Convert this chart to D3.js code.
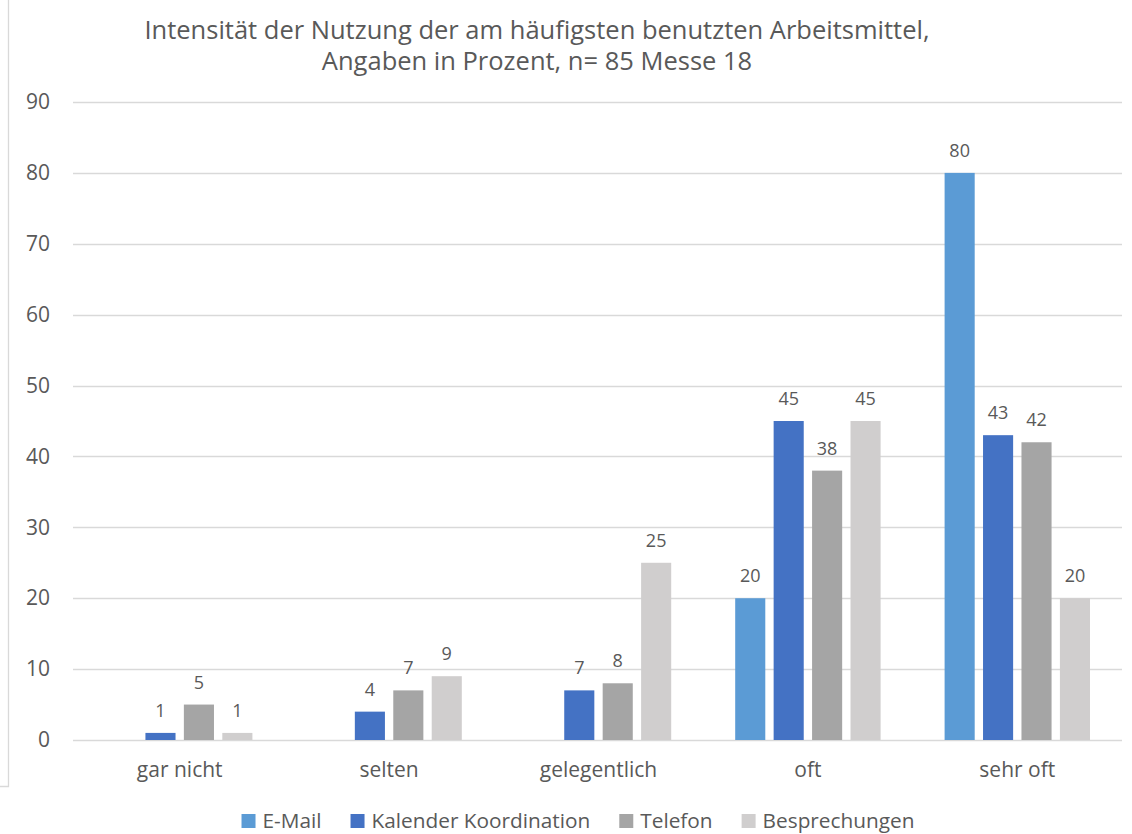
<!DOCTYPE html>
<html>
<head>
<meta charset="utf-8">
<title>Intensität der Nutzung</title>
<script src="https://cdnjs.cloudflare.com/ajax/libs/d3/7.8.5/d3.min.js"></script>
<style>
	body { margin: 0; background: #fff; }
	svg text { font-family: "Open Sans", sans-serif; fill: #595959; }
	.grid line { stroke: #d9d9d9; stroke-width: 1.3px; }
</style>
</head>
<body>
<script>
var categories = ["gar nicht", "selten", "gelegentlich", "oft", "sehr oft"];
var seriesNames = ["E-Mail", "Kalender Koordination", "Telefon", "Besprechungen"];
var emailValues = [null, null, null, 20, 80];
var kalenderValues = [1, 4, 7, 45, 43];
var telefonValues = [5, 7, 8, 38, 42];
var besprechungValues = [1, 9, 25, 45, 20];
var yTicks = [0, 10, 20, 30, 40, 50, 60, 70, 80, 90];
var titleLines = ["Intensität der Nutzung der am häufigsten benutzten Arbeitsmittel,",
	"Angaben in Prozent, n= 85 Messe 18"];
var colors = ["#5b9bd5", "#4472c4", "#a5a5a5", "#d0cece"];

var allValues = [emailValues, kalenderValues, telefonValues, besprechungValues];

var W = 1132, H = 834;
var plotLeft = 75, plotRight = 1122, plotTop = 102, plotBottom = 740;

var svg = d3.select("body").append("svg")
	.attr("width", W)
	.attr("height", H);

// frame line on the left
svg.append("path")
	.attr("d", "M8.5,0 V786.5 H0")
	.attr("fill", "none")
	.attr("stroke", "#d9d9d9")
	.attr("stroke-width", 1.3);

var x0 = d3.scaleBand().domain(categories).range([plotLeft, plotRight]);
var x1 = d3.scaleBand().domain(seriesNames)
	.range([32, x0.bandwidth() - 32])
	.paddingInner(0.217);
var y = d3.scaleLinear().domain([0, 90]).range([plotBottom, plotTop]);

// gridlines
svg.append("g").attr("class", "grid")
	.selectAll("line")
	.data(yTicks)
	.enter().append("line")
		.attr("x1", 73)
		.attr("x2", plotRight)
		.attr("y1", function(d) { return Math.round(y(d)) + 0.5; })
		.attr("y2", function(d) { return Math.round(y(d)) + 0.5; });

// y axis labels
var yAxis = d3.axisLeft(y).tickValues(yTicks).tickSize(0).tickPadding(25);
var ya = svg.append("g")
	.attr("transform", "translate(" + plotLeft + ",0)")
	.call(yAxis);
ya.select(".domain").remove();
ya.selectAll("text")
	.style("font-size", "21px")
	.style("font-family", "'Open Sans', sans-serif")
	.attr("fill", "#595959");

// x axis labels
var xAxis = d3.axisBottom(x0).tickSize(0).tickPadding(22);
var xa = svg.append("g")
	.attr("transform", "translate(0," + plotBottom + ")")
	.call(xAxis);
xa.select(".domain").remove();
xa.selectAll("text")
	.style("font-size", "21px")
	.style("font-family", "'Open Sans', sans-serif")
	.attr("fill", "#595959");

// bars
var rows = [];
categories.forEach(function(c, i) {
	seriesNames.forEach(function(s, j) {
		var v = allValues[j][i];
		if (v !== null) rows.push({ cat: c, series: s, value: v, idx: j });
	});
});

var groups = svg.append("g");
groups.selectAll("rect")
	.data(rows)
	.enter().append("rect")
		.attr("x", function(d) { return x0(d.cat) + x1(d.series); })
		.attr("y", function(d) { return y(d.value); })
		.attr("width", x1.bandwidth())
		.attr("height", function(d) { return y(0) - y(d.value); })
		.attr("fill", function(d) { return colors[d.idx]; });

groups.selectAll("text")
	.data(rows)
	.enter().append("text")
		.attr("x", function(d) { return x0(d.cat) + x1(d.series) + x1.bandwidth() / 2; })
		.attr("y", function(d) { return y(d.value) - 16; })
		.attr("text-anchor", "middle")
		.style("font-size", "18px")
		.text(function(d) { return d.value; });

// title
svg.append("g").selectAll("text")
	.data(titleLines)
	.enter().append("text")
		.attr("x", 537)
		.attr("y", function(d, i) { return 39 + i * 31; })
		.attr("text-anchor", "middle")
		.style("font-size", "25.5px")
		.text(function(d) { return d; });

// legend
var legend = svg.append("g");
var items = legend.selectAll("g")
	.data(seriesNames)
	.enter().append("g");
items.append("rect")
	.attr("width", 14)
	.attr("height", 14)
	.attr("y", -14)
	.attr("fill", function(d, i) { return colors[i]; });
items.append("text")
	.attr("x", 21)
	.attr("y", 0)
	.style("font-size", "20.8px")
	.text(function(d) { return d; });

var gap = 29;
var pos = 0;
items.each(function() {
	var w = this.querySelector("text").getComputedTextLength() + 21;
	d3.select(this).attr("data-x", pos);
	pos += w + gap;
});
var total = pos - gap;
var startX = 578 - total / 2;
items.attr("transform", function() {
	return "translate(" + (startX + (+this.getAttribute("data-x"))) + ",828)";
});
</script>
</body>
</html>
